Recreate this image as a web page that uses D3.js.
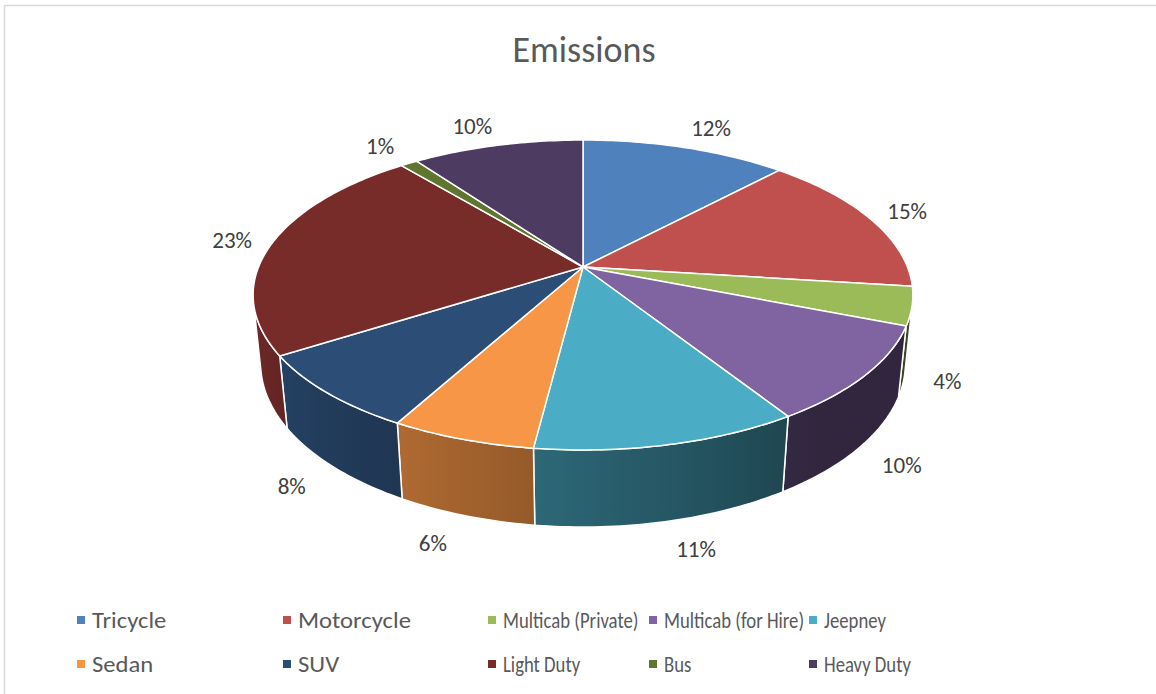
<!DOCTYPE html>
<html>
<head>
<meta charset="utf-8">
<script src="https://cdn.jsdelivr.net/npm/d3@7"></script>
<style>
  html, body { margin: 0; padding: 0; background: #fff; }
  svg { display: block; }
  text { font-family: Carlito, Calibri, Lato, "Liberation Sans", sans-serif; }
</style>
</head>
<body>
<svg id="chart" width="1156" height="694"></svg>
<script>
// Emission shares by vehicle type (percent)
const categories = ["Tricycle", "Motorcycle", "Multicab (Private)", "Multicab (for Hire)", "Jeepney",
                    "Sedan", "SUV", "Light Duty", "Bus", "Heavy Duty"];
const shares = [12, 15, 4, 10, 11, 6, 8, 23, 1, 10];
const sliceColors = ["#4F81BD", "#C0504D", "#9BBB59", "#8064A2", "#4BACC6",
                     "#F79646", "#2C4D75", "#772C2A", "#5F7530", "#4D3B62"];
const chartTitle = "Emissions";

const svg = d3.select("#chart");
const W = 1156, H = 694;

// chart area frame
svg.append("rect")
  .attr("x", 4.5).attr("y", 5.5)
  .attr("width", W + 10).attr("height", H + 10)
  .attr("fill", "#fff").attr("stroke", "#d9d9d9").attr("stroke-width", 1.5);

svg.append("text")
  .attr("x", 584).attr("y", 62)
  .attr("text-anchor", "middle")
  .attr("font-size", 36)
  .attr("fill", "#595959")
  .text(chartTitle);

// ---- 3D perspective disc -------------------------------------------------
const cx = 583, cy = 267;          // projected pie centre
const focal = 1593, dist = 4.91;   // camera focal length / distance (unit radius)
const tilt = Math.asin(0.462);     // camera elevation
const thick = 0.24;                // disc thickness (unit radius)
const sinT = Math.sin(tilt), cosT = Math.cos(tilt);

// angle measured clockwise from the back (12 o'clock); z up
function project(r, a, z) {
  const X = r * Math.sin(a), Y = -r * Math.cos(a);
  const yc = z * cosT - Y * sinT;
  const d = dist - (Y * cosT + z * sinT);
  return [cx + focal * X / d, cy - focal * yc / d];
}

// side wall is visible where its outward normal faces the camera
const visLimit = Math.acos(-1 / (dist * cosT));
const visFrom = visLimit, visTo = 2 * Math.PI - visLimit;

const pie = d3.pie().sort(null).value(d => d.value);
const arcs = pie(categories.map((c, i) => ({ name: c, value: shares[i], color: sliceColors[i] })));

function rimPoints(a0, a1, z) {
  const n = Math.max(2, Math.ceil(Math.abs(a1 - a0) / (Math.PI / 180)));
  return d3.range(n + 1).map(k => project(1, a0 + (a1 - a0) * k / n, z));
}

// shading of the wall by its facing direction
const shade = d3.scaleLinear()
  .domain([150 * Math.PI / 180, 256 * Math.PI / 180])
  .range([0.42, 0.94]);
function wallColor(base, a) {
  const b = Math.max(0.38, Math.min(0.95, shade(a)));
  const c = d3.rgb(base);
  return d3.rgb(c.r * b, c.g * b, c.b * b).formatHex();
}

const defs = svg.append("defs");
const line = d3.line();
const gWalls = svg.append("g");
const gTops = svg.append("g");

arcs.forEach((d, i) => {
  const a0 = Math.max(d.startAngle, visFrom), a1 = Math.min(d.endAngle, visTo);
  if (a1 <= a0) return;
  const top = rimPoints(a0, a1, 0);
  const bottom = rimPoints(a1, a0, -thick);
  const x0 = project(1, a0, 0)[0], x1 = project(1, a1, 0)[0];
  const grad = defs.append("linearGradient")
    .attr("id", "wall" + i)
    .attr("gradientUnits", "userSpaceOnUse")
    .attr("x1", x0).attr("y1", 0).attr("x2", x1).attr("y2", 0);
  d3.range(7).forEach(k => {
    const a = a0 + (a1 - a0) * k / 6;
    const x = project(1, a, 0)[0];
    grad.append("stop")
      .attr("offset", x1 === x0 ? 0 : (x - x0) / (x1 - x0))
      .attr("stop-color", wallColor(d.data.color, a));
  });
  gWalls.append("path")
    .attr("d", line(top.concat(bottom)) + "Z")
    .attr("fill", `url(#wall${i})`)
    .attr("stroke", "#fff").attr("stroke-width", 1.5)
    .attr("stroke-linejoin", "round");
});

arcs.forEach(d => {
  const pts = [project(0, 0, 0)].concat(rimPoints(d.startAngle, d.endAngle, 0));
  gTops.append("path")
    .attr("d", line(pts) + "Z")
    .attr("fill", d.data.color)
    .attr("stroke", "#fff").attr("stroke-width", 1.5)
    .attr("stroke-linejoin", "round");
});

// ---- data labels, pushed outside the rim -----------------------------------
const fmt = d3.format(".0%");
const total = d3.sum(shares);
arcs.forEach(d => {
  const a = (d.startAngle + d.endAngle) / 2;
  const s = Math.sin(a), c = Math.cos(a);
  const p = project(1.1, a, c < 0 ? -thick : 0);
  const dx = 22 * Math.sign(s) * (1 - 0.6 * Math.abs(s));
  const dy = c > 0 ? -10 * c : -5 * c;
  svg.append("text")
    .attr("x", p[0] + dx).attr("y", p[1] + dy)
    .attr("text-anchor", "middle")
    .attr("dominant-baseline", "central")
    .attr("font-size", 23)
    .attr("fill", "#404040")
    .text(fmt(d.data.value / total));
});

// ---- legend ------------------------------------------------------------------
// entries in the wider columns are stretched, the narrow ones compressed to fit
const legendCols = [77, 283, 488, 649, 809];
const legendFit = [1.12, 1.12, 0.85, 0.85, 0.85];
const legendRows = [620, 664];
const legend = svg.append("g");
categories.forEach((name, i) => {
  const col = i % 5;
  const x = legendCols[col], y = legendRows[Math.floor(i / 5)];
  legend.append("rect")
    .attr("x", x).attr("y", y - 4)
    .attr("width", 8).attr("height", 8)
    .attr("fill", sliceColors[i]);
  const t = legend.append("text")
    .attr("x", x + 15).attr("y", y)
    .attr("dominant-baseline", "central")
    .attr("font-size", 22)
    .attr("fill", "#595959")
    .text(name);
  const w = t.node().getComputedTextLength();
  t.attr("textLength", w * legendFit[col]).attr("lengthAdjust", "spacingAndGlyphs");
});
</script>
</body>
</html>
